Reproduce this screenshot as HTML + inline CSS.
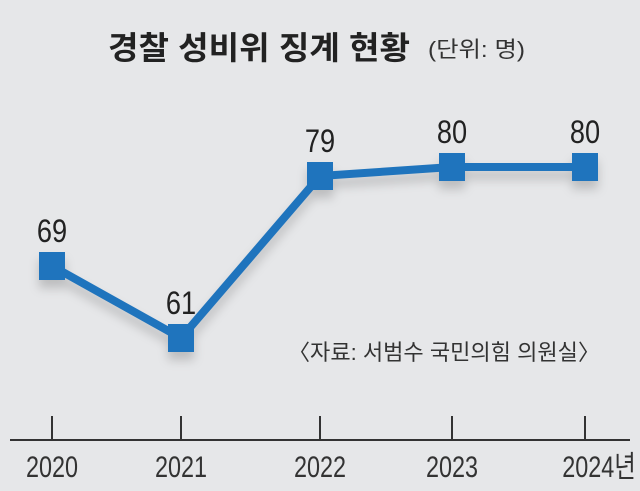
<!DOCTYPE html>
<html><head><meta charset="utf-8"><style>
html,body{margin:0;padding:0;background:#e6e7e9;}
svg{display:block;font-family:"Liberation Sans","Noto Sans CJK KR",sans-serif;}
</style></head><body>
<svg id="chart" width="640" height="491" viewBox="0 0 640 491">
<rect width="640" height="491" fill="#e6e7e9"/>
<text x="108" y="59" font-size="32" font-weight="bold" fill="#222" textLength="302" lengthAdjust="spacingAndGlyphs">경찰 성비위 징계 현황</text>
<text x="428" y="57" font-size="22" fill="#333" textLength="97" lengthAdjust="spacingAndGlyphs">(단위: 명)</text>
<text x="600" y="360" font-size="22" fill="#333" text-anchor="end" textLength="312" lengthAdjust="spacingAndGlyphs">〈자료: 서범수 국민의힘 의원실〉</text>
<line x1="10" y1="440" x2="630" y2="440" stroke="#333" stroke-width="2"/>
<g id="ticks"></g>
<g id="series" style="filter:drop-shadow(0px 8px 5px rgba(0,0,0,0.18))"></g>
<g id="labels"></g>
</svg>
<script>
const categories=["2020","2021","2022","2023","2024"];
const values=[69,61,79,80,80];
const tickLabels=["2020","2021","2022","2023","2024년"];
const xPos=[52,181,320,452,585];
function x(i){return xPos[i];}
function y(v){return 338-(v-61)*9;}
const ns="http://www.w3.org/2000/svg";
function mk(t,a,p){const e=document.createElementNS(ns,t);for(const k in a)e.setAttribute(k,a[k]);p.appendChild(e);return e;}
const tg=document.getElementById('ticks'),sg=document.getElementById('series'),lg=document.getElementById('labels');
categories.forEach((c,i)=>{
 const t=mk('line',{x1:x(i),y1:416,x2:x(i),y2:440,stroke:'#333','stroke-width':2},tg);
 
 
 const cx=i==4?x(i)+14:x(i);
 const l=mk('text',{x:cx,y:477,'font-size':30,fill:'#333','text-anchor':'middle',transform:`translate(${cx},0) scale(0.78,1) translate(${-cx},0)`},tg);
 l.textContent=tickLabels[i];
 
 
});
const pts=values.map((v,i)=>x(i)+','+y(v)).join(' ');
const pl=mk('polyline',{points:pts,fill:'none',stroke:'#1f74bd','stroke-width':8,'stroke-linejoin':'miter'},sg);


values.forEach((v,i)=>{
 const r=mk('rect',{x:x(i)-13,y:y(v)-14,width:26,height:28,fill:'#1f74bd'},sg);
 
 
 const t=mk('text',{x:x(i),y:y(v)-24,'font-size':32,fill:'#222','text-anchor':'middle',transform:`translate(${x(i)},0) scale(0.85,1) translate(${-x(i)},0)`},lg);
 t.textContent=v;
 
 
});
</script>
</body></html>
